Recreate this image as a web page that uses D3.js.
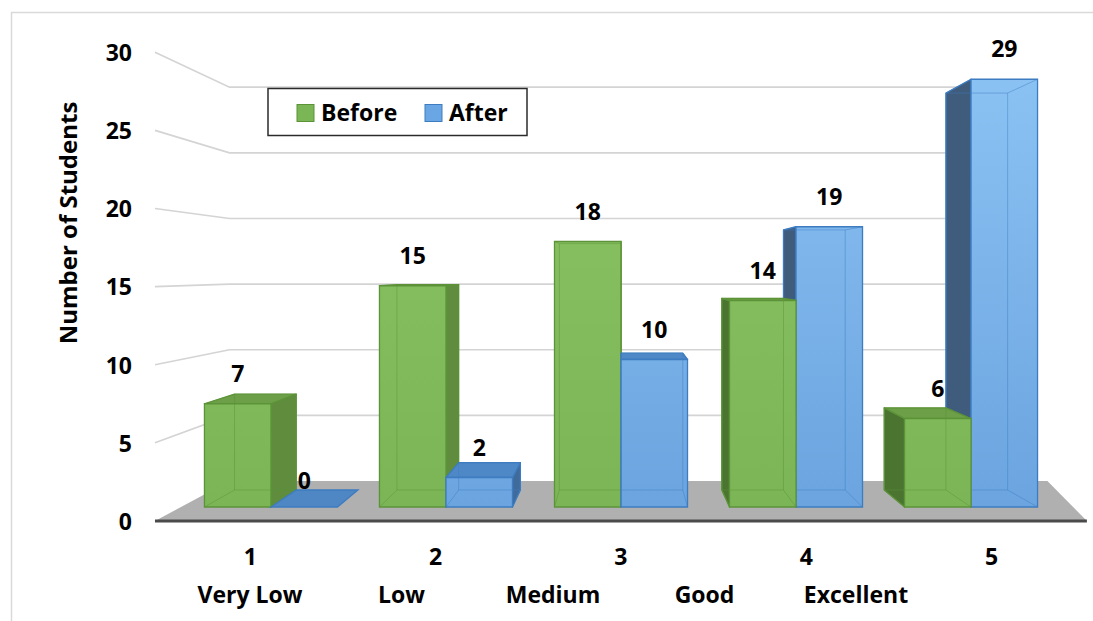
<!DOCTYPE html>
<html>
<head>
<meta charset="utf-8">
<script src="https://cdn.jsdelivr.net/npm/d3@7"></script>
<style>
  html, body { margin: 0; padding: 0; background: #ffffff; }
  svg { display: block; }
  text { font-family: "Open Sans", "Noto Sans", sans-serif; fill: #000; }
</style>
</head>
<body>
<svg id="chart" width="1093" height="621"></svg>
<script>
// ---------------- data ----------------
const categories = ["1", "2", "3", "4", "5"];
const categoryNames = ["Very Low", "Low", "Medium", "Good", "Excellent"];
const seriesNames = ["Before", "After"];
const beforeValues = [7, 15, 18, 14, 6];
const afterValues = [0, 2, 10, 19, 29];
const yTicks = [0, 5, 10, 15, 20, 25, 30];
const yTitle = "Number of Students";

// ---------------- projection (simple perspective) ----------------
const VX = 622, VY = 271;            // vanishing point
const S_FLOOR_FRONT = 1.059, S_FLOOR_BACK = 0.89;
const S_BAR_FRONT = 1.0, S_BAR_BACK = 0.928;
function P(X, y, s) { return [VX + (X - VX) * s, VY + (y - VY) * s]; }

const svg = d3.select("#chart");
const W = 1093, H = 621;
const FS = "23px";

// frame
svg.append("rect").attr("x", 0).attr("y", 0).attr("width", W).attr("height", H).attr("fill", "#fff");
svg.append("rect").attr("x", 11.5).attr("y", 12.5).attr("width", W + 20).attr("height", H + 20)
  .attr("fill", "none").attr("stroke", "#d9d9d9").attr("stroke-width", 1.5);

// scales (in the plane of the bar fronts)
const yS = d3.scaleLinear().domain([0, 30]).range([507, 64.5]);
const xBand = d3.scaleBand().domain(categories).range([181, 1061]).paddingInner(0.24).paddingOuter(0.134);
const xSeries = d3.scaleBand().domain(seriesNames).range([0, xBand.bandwidth()]);
const WALL_LEFT = 181, WALL_RIGHT = 1061, FLOOR_BACK_RIGHT = 1100;

// defs: gradients
const defs = svg.append("defs");
function grad(id, c1, c2) {
  const g = defs.append("linearGradient").attr("id", id).attr("gradientUnits", "userSpaceOnUse")
    .attr("x1", 0).attr("y1", 60).attr("x2", 0).attr("y2", 507);
  g.append("stop").attr("offset", 0).attr("stop-color", c1);
  g.append("stop").attr("offset", 1).attr("stop-color", c2);
}
grad("gGreen", "#8cc566", "#7bb556");
grad("gBlue", "#8cc3f4", "#6ba4df");

const palette = {
  Before: { front: "url(#gGreen)", top: "#6c9f48", sideR: "#5f8d3d", sideL: "#4b7431", edge: "#5c9338", flat: "#6c9f48" },
  After:  { front: "url(#gBlue)",  top: "#4f88c6", sideR: "#3f6a9a", sideL: "#3f5c7c", edge: "#3d7cc0", flat: "#4f86c4" }
};

// ---------------- gridlines (left wall + back wall) ----------------
const gGrid = svg.append("g");
yTicks.filter(v => v > 0).forEach(v => {
  const a = P(WALL_LEFT, yS(v), S_FLOOR_FRONT);
  const b = P(WALL_LEFT, yS(v), S_FLOOR_BACK);
  const c = P(WALL_RIGHT, yS(v), S_FLOOR_BACK);
  gGrid.append("path").attr("d", d3.line()([a, b, c]))
    .attr("fill", "none").attr("stroke", "#d4d4d4").attr("stroke-width", 1.7);
});

// ---------------- floor ----------------
const floorPts = [
  P(WALL_LEFT, yS(0), S_FLOOR_FRONT),
  P(WALL_RIGHT, yS(0), S_FLOOR_FRONT),
  P(FLOOR_BACK_RIGHT, yS(0), S_FLOOR_BACK),
  P(WALL_LEFT, yS(0), S_FLOOR_BACK)
];
svg.append("path").attr("d", d3.line()(floorPts) + "Z").attr("fill", "#b0b0b0");
svg.append("line")
  .attr("x1", floorPts[0][0]).attr("y1", floorPts[0][1])
  .attr("x2", floorPts[1][0]).attr("y2", floorPts[1][1])
  .attr("stroke", "#4a4a4a").attr("stroke-width", 3);

// ---------------- bars ----------------
const bars = [];
categories.forEach((c, i) => {
  [["Before", beforeValues[i]], ["After", afterValues[i]]].forEach(([s, v]) => {
    const X0 = xBand(c) + xSeries(s);
    const X1 = X0 + xSeries.bandwidth();
    let dist = 0;
    if (X1 <= VX) dist = VX - X1; else if (X0 >= VX) dist = X0 - VX;
    bars.push({ c, s, v, X0, X1, dist });
  });
});
bars.sort((a, b) => b.dist - a.dist);

const gBars = svg.append("g");
const poly = pts => d3.line()(pts) + "Z";
bars.forEach(b => {
  const col = palette[b.s];
  const yt = yS(b.v), y0 = yS(0);
  const A = P(b.X0, yt, S_BAR_FRONT), B = P(b.X1, yt, S_BAR_FRONT);
  const C = P(b.X1, y0, S_BAR_FRONT), D = P(b.X0, y0, S_BAR_FRONT);
  const A2 = P(b.X0, yt, S_BAR_BACK), B2 = P(b.X1, yt, S_BAR_BACK);
  const C2 = P(b.X1, y0, S_BAR_BACK), D2 = P(b.X0, y0, S_BAR_BACK);
  const g = gBars.append("g");
  const sw = 1.3;
  if (b.v === 0) {
    g.append("path").attr("d", poly([A, B, B2, A2])).attr("fill", col.flat)
      .attr("stroke", col.edge).attr("stroke-width", sw);
    return;
  }
  if (b.X1 < VX) {
    g.append("path").attr("d", poly([B, C, C2, B2])).attr("fill", col.sideR)
      .attr("stroke", col.edge).attr("stroke-width", sw).attr("stroke-linejoin", "round");
  }
  if (b.X0 > VX) {
    g.append("path").attr("d", poly([A, D, D2, A2])).attr("fill", col.sideL)
      .attr("stroke", col.edge).attr("stroke-width", sw).attr("stroke-linejoin", "round");
  }
  if (yt > VY) {
    g.append("path").attr("d", poly([A, B, B2, A2])).attr("fill", col.top)
      .attr("stroke", col.edge).attr("stroke-width", sw).attr("stroke-linejoin", "round");
  }
  g.append("path").attr("d", poly([A, B, C, D])).attr("fill", col.front)
    .attr("stroke", col.edge).attr("stroke-width", sw);
  const hidden = [[A2, D2], [B2, C2], [D2, C2], [D, D2], [C, C2], [A2, B2], [A, A2], [B, B2]];
  hidden.forEach(([p, q]) => {
    g.append("line").attr("x1", p[0]).attr("y1", p[1]).attr("x2", q[0]).attr("y2", q[1])
      .attr("stroke", col.edge).attr("stroke-width", 1).attr("stroke-opacity", 0.45);
  });
});

// ---------------- data labels ----------------
const gLab = svg.append("g");
bars.forEach(b => {
  const cx = (b.X0 + b.X1) / 2;
  const top = yS(b.v);
  gLab.append("text")
    .attr("x", cx).attr("y", top - (b.v === 0 ? 18 : 22))
    .attr("text-anchor", "middle")
    .style("font-size", FS).style("font-weight", 700)
    .text(b.v);
});

// ---------------- y axis (front-left edge) ----------------
const yFront = d3.scaleLinear().domain([0, 30])
  .range([P(WALL_LEFT, yS(0), S_FLOOR_FRONT)[1], P(WALL_LEFT, yS(30), S_FLOOR_FRONT)[1]]);
const yAxisG = svg.append("g").attr("transform", "translate(132,0)")
  .call(d3.axisLeft(yFront).tickValues(yTicks).tickSize(0).tickPadding(0));
yAxisG.select(".domain").remove();
yAxisG.selectAll("text").style("font-size", FS).style("font-weight", 700)
  .style("font-family", "'Open Sans', sans-serif").attr("fill", "#000")
  .attr("dy", "0.36em");

// ---------------- x axis (front edge) ----------------
const xFront = d3.scaleBand().domain(categories)
  .range([P(WALL_LEFT, yS(0), S_FLOOR_FRONT)[0], P(WALL_RIGHT, yS(0), S_FLOOR_FRONT)[0]])
  .paddingInner(0.24).paddingOuter(0.134);
const xAxisG = svg.append("g").attr("transform", "translate(0,565)")
  .call(d3.axisBottom(xFront).tickSize(0).tickPadding(0));
xAxisG.select(".domain").remove();
xAxisG.selectAll("text").attr("y", 0).attr("dy", null)
  .style("font-size", FS).style("font-weight", 700)
  .style("font-family", "'Open Sans', sans-serif").attr("fill", "#000");

// category names row
const xNames = d3.scalePoint().domain(categoryNames).range([250, 856]);
svg.append("g").selectAll("text").data(categoryNames).join("text")
  .attr("x", d => xNames(d)).attr("y", 603)
  .attr("text-anchor", "middle")
  .style("font-size", FS).style("font-weight", 700)
  .text(d => d);

// ---------------- axis title ----------------
svg.append("text")
  .attr("transform", "translate(77,223) rotate(-90)")
  .attr("text-anchor", "middle")
  .style("font-size", "24px").style("font-weight", 700)
  .text(yTitle);

// ---------------- legend ----------------
const lg = svg.append("g");
lg.append("rect").attr("x", 268).attr("y", 88.5).attr("width", 259).attr("height", 47)
  .attr("fill", "#fff").attr("stroke", "#2b2b2b").attr("stroke-width", 1.5);
const legendX = d3.scaleOrdinal().domain(seriesNames).range([297, 425]);
const legendFill = { Before: "#7ab556", After: "#6aa6e4" };
const legendEdge = { Before: "#5c9338", After: "#3d7cc0" };
seriesNames.forEach(s => {
  lg.append("rect").attr("x", legendX(s)).attr("y", 104.5).attr("width", 17).attr("height", 17)
    .attr("fill", legendFill[s]).attr("stroke", legendEdge[s]).attr("stroke-width", 1);
  lg.append("text").attr("x", legendX(s) + 24).attr("y", 121)
    .style("font-size", FS).style("font-weight", 700).text(s);
});
</script>
</body>
</html>
